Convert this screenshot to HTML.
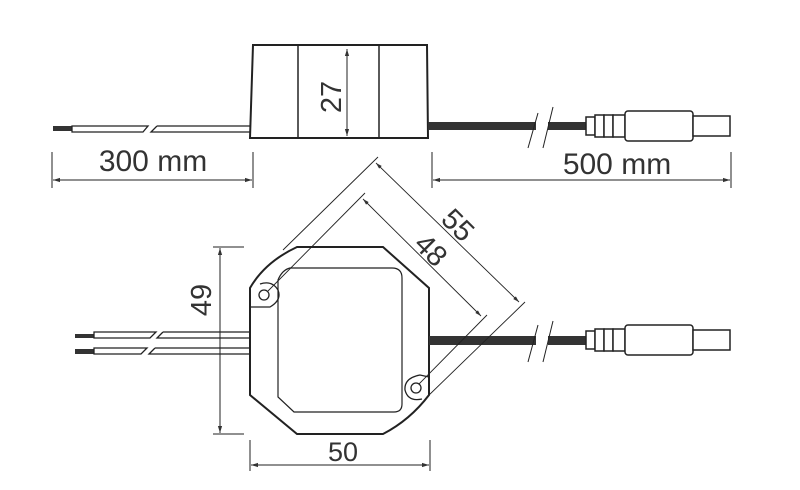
<!DOCTYPE html>
<html><head><meta charset="utf-8"><style>
html,body{margin:0;padding:0;background:#fff;width:800px;height:490px;overflow:hidden}
svg{display:block}
text{font-family:"Liberation Sans",sans-serif;fill:#333}
</style></head><body>
<svg width="800" height="490" viewBox="0 0 800 490" xmlns="http://www.w3.org/2000/svg">
<defs>
<marker id="a" viewBox="0 0 10 10" refX="10" refY="5" markerWidth="7" markerHeight="7" orient="auto-start-reverse"><path d="M0,2 L10,5 L0,8 z" fill="#333"/></marker>
<g id="conn">
 <rect x="586" y="-9" width="9" height="18" fill="#fff" stroke="#222" stroke-width="1.5"/>
 <rect x="595" y="-11" width="9" height="22" fill="#fff" stroke="#222" stroke-width="1.5"/>
 <rect x="604" y="-11" width="9" height="22" fill="#fff" stroke="#222" stroke-width="1.5"/>
 <rect x="613" y="-11" width="12" height="22" fill="#fff" stroke="#222" stroke-width="1.5"/>
 <rect x="625" y="-15" width="68" height="30" rx="3" fill="#fff" stroke="#222" stroke-width="1.5"/>
 <rect x="693" y="-10" width="37" height="20" fill="#fff" stroke="#222" stroke-width="1.5"/>
</g>
</defs>
<g stroke="#222" fill="none">
<path d="M253,45 L427,45 L428,138 L250,138 Z" stroke-width="2"/>
<line x1="298" y1="45" x2="298" y2="138" stroke-width="1.5"/>
<line x1="379" y1="45" x2="379" y2="138" stroke-width="1.5"/>
<line x1="347" y1="49" x2="347" y2="136" stroke-width="1" marker-start="url(#a)" marker-end="url(#a)"/>
<rect x="53" y="126" width="20" height="5" fill="#333" stroke="none"/>
<path d="M72,126 L148,126 L143,132 L72,132 Z" stroke-width="1.3" fill="#fff"/>
<path d="M157,126 L250,126 M250,132 L151,132 L157,126" stroke-width="1.3"/>
<rect x="428" y="122" width="108" height="8" fill="#333" stroke="none"/>
<rect x="548" y="122" width="40" height="8" fill="#333" stroke="none"/>
<line x1="538" y1="113" x2="528" y2="148" stroke-width="1"/>
<line x1="553" y1="107" x2="543" y2="148" stroke-width="1"/>
<use href="#conn" y="126"/>
<line x1="52" y1="152" x2="52" y2="188" stroke-width="1"/>
<line x1="253" y1="152" x2="253" y2="188" stroke-width="1"/>
<line x1="53" y1="180" x2="252" y2="180" stroke-width="1" marker-start="url(#a)" marker-end="url(#a)"/>
<line x1="432" y1="152" x2="432" y2="188" stroke-width="1"/>
<line x1="731" y1="152" x2="731" y2="188" stroke-width="1"/>
<line x1="433" y1="180" x2="730" y2="180" stroke-width="1" marker-start="url(#a)" marker-end="url(#a)"/>

<path d="M297,247 L383,247 L429,288 L429,395 Q410,420 383,434 L297,434 L250,395 L250,288 Q265,262 297,247 Z" stroke-width="2" fill="#fff"/>
<path d="M290,268 L392,268 Q402,268 402,278 L402,404 Q402,412 394,412 L294,412 L278,397 L278,280 Q282,270 290,268 Z" stroke-width="1.2"/>
<path d="M250,307 L270,307 Q282,300 278,290 Q272,280 260,284" stroke-width="1.3"/>
<circle cx="264" cy="295" r="5" stroke-width="1.3"/>
<path d="M429,377 L420,375 Q404,378 405,390 Q408,402 422,399" stroke-width="1.3"/>
<circle cx="416" cy="388" r="5" stroke-width="1.3"/>
<rect x="75" y="334" width="20" height="4" fill="#333" stroke="none"/>
<rect x="75" y="349" width="20" height="5" fill="#333" stroke="none"/>
<path d="M94,332 L156,332 L150,338 L94,338 Z" stroke-width="1.3" fill="#fff"/>
<path d="M163,332 L250,332 M250,338 L157,338 L163,332" stroke-width="1.3"/>
<path d="M94,348 L147,348 L141,354 L94,354 Z" stroke-width="1.3" fill="#fff"/>
<path d="M155,348 L250,348 M250,354 L149,354 L155,348" stroke-width="1.3"/>
<rect x="429" y="336" width="107" height="9" fill="#333" stroke="none"/>
<rect x="548" y="336" width="40" height="9" fill="#333" stroke="none"/>
<line x1="538" y1="325" x2="528" y2="362" stroke-width="1"/>
<line x1="553" y1="321" x2="543" y2="362" stroke-width="1"/>
<use href="#conn" y="340"/>
<line x1="213" y1="247" x2="244" y2="247" stroke-width="1"/>
<line x1="213" y1="434" x2="244" y2="434" stroke-width="1"/>
<line x1="220" y1="248" x2="220" y2="433" stroke-width="1" marker-start="url(#a)" marker-end="url(#a)"/>
<line x1="250" y1="440" x2="250" y2="471" stroke-width="1"/>
<line x1="430" y1="440" x2="430" y2="471" stroke-width="1"/>
<line x1="251" y1="465" x2="429" y2="465" stroke-width="1" marker-start="url(#a)" marker-end="url(#a)"/>
<line x1="378" y1="157" x2="283" y2="250" stroke-width="0.9"/>
<line x1="525" y1="302" x2="427" y2="397" stroke-width="0.9"/>
<line x1="376" y1="163" x2="519" y2="302" stroke-width="0.9" marker-start="url(#a)" marker-end="url(#a)"/>
<line x1="365" y1="193" x2="268" y2="291" stroke-width="0.9"/>
<line x1="487" y1="315" x2="419" y2="384" stroke-width="0.9"/>
<line x1="363" y1="199" x2="481" y2="316" stroke-width="0.9" marker-start="url(#a)" marker-end="url(#a)"/>
</g>
<text x="153" y="171" font-size="30" text-anchor="middle">300 mm</text>
<text x="617" y="174" font-size="30" text-anchor="middle">500 mm</text>
<text x="343" y="461" font-size="27" text-anchor="middle">50</text>
<text transform="translate(341,97) rotate(-90)" font-size="29" text-anchor="middle">27</text>
<text transform="translate(211,300) rotate(-90)" font-size="29" text-anchor="middle">49</text>
<text transform="translate(451,232) rotate(45)" font-size="29" text-anchor="middle">55</text>
<text transform="translate(424,257) rotate(45)" font-size="29" text-anchor="middle">48</text>
</svg>
</body></html>
